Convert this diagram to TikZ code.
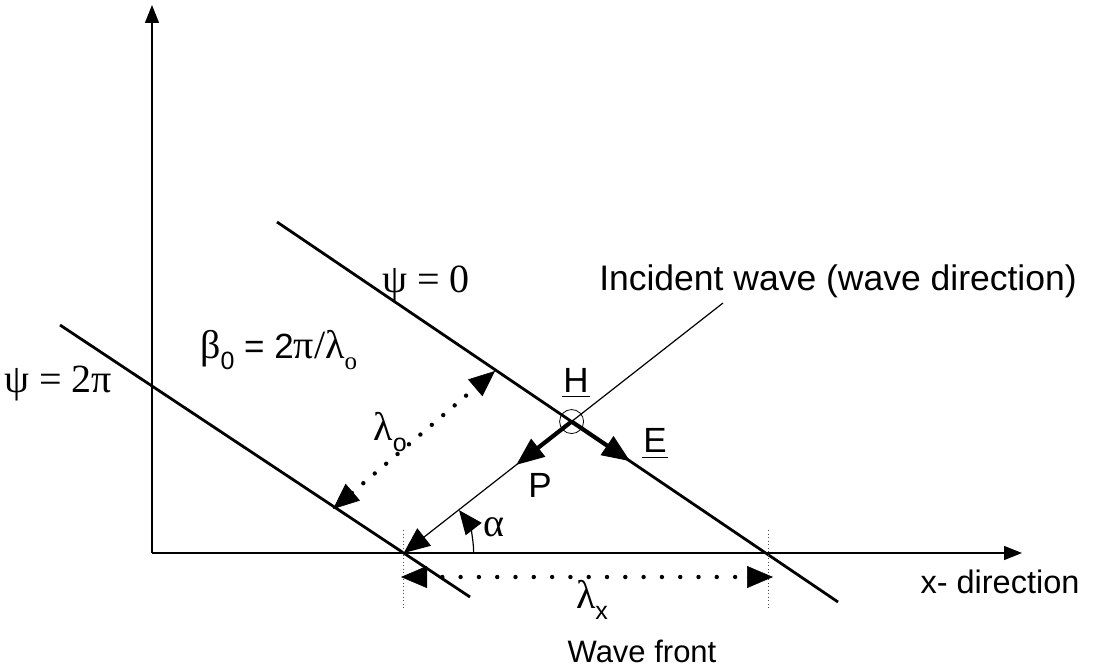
\documentclass[tikz,border=0pt]{standalone}
\usepackage{fontspec}
\setmainfont{Liberation Sans}
\newfontfamily\gk{Liberation Serif}
\usetikzlibrary{arrows.meta,calc}
\newcommand\subs[1]{\raisebox{-0.32em}{\fontsize{25}{25}\selectfont #1}}
\newcommand\gr[1]{{\fontsize{40}{40}\selectfont\gk #1}}
\begin{document}
\begin{tikzpicture}[x=1pt,y=-1pt,
  front/.style={line width=2.8pt},
  axisline/.style={line width=1.2pt,-{Triangle[length=18pt,width=14pt]}},
  thinline/.style={line width=1.2pt},
  bigtip/.style={-{Triangle[length=26pt,width=22pt]}},
  thicktip/.style={line width=4.2pt,-{Triangle[length=28pt,width=22pt]}},
  dotline/.style={line width=4.4pt,dash pattern=on 0pt off 15pt,line cap=round},
  guide/.style={line width=0.7pt,dash pattern=on 1pt off 2.5pt,black!70},
  lbl/.style={inner sep=0pt,font=\fontsize{35}{38}\selectfont},
]
\useasboundingbox (0,0) rectangle (1107,671);
% axes
\coordinate (O) at (152,553);
\coordinate (Yt) at (152,5);
\coordinate (Xt) at (1022,553);
\draw[axisline] (O) -- (Yt);
\draw[axisline] (O) -- (Xt);
% wave fronts
\coordinate (A0) at (277,222);
\coordinate (B0) at (838,602);
\coordinate (A2) at (60,325);
\coordinate (B2) at (470,597);
\draw[front] (A0) -- (B0);
\draw[front] (A2) -- (B2);
\coordinate (Q) at (intersection of A2--B2 and O--Xt);
\coordinate (W) at (723,303);
\coordinate (H) at (intersection of A0--B0 and Q--W);
% incident wave line
\draw[thinline,bigtip] (W) -- (Q);
% H circle
\draw[line width=0.8pt] (H) circle[radius=12];
% P and E arrows
\coordinate (Pt) at ($(H)!0.33!(Q)$);
\draw[thicktip] (H) -- (Pt);
\coordinate (Et) at ($(H)!0.22!(B0)$);
\draw[thicktip] (H) -- (Et);
% lambda_o
\coordinate (Lo1) at (495,371);
\coordinate (Lo2) at (333,509);
\coordinate (Lo1b) at ($(Lo1)!23pt!(Lo2)$);
\coordinate (Lo2b) at ($(Lo2)!23pt!(Lo1)$);
\draw[dotline] (Lo1b) -- (Lo2b);
\draw[line width=0.5pt,bigtip] (Lo1b) -- (Lo1);
\draw[line width=0.5pt,bigtip] (Lo2b) -- (Lo2);
% guides
\coordinate (G1a) at (403,530);
\coordinate (G1b) at (403,609);
\coordinate (G2a) at (768,530);
\coordinate (G2b) at (768,609);
\draw[guide] (G1a) -- (G1b);
\draw[guide] (G2a) -- (G2b);
% lambda_x
\coordinate (Lx1) at (401,577);
\coordinate (Lx2) at (773,577);
\coordinate (Lx1b) at (424,577);
\coordinate (Lx2b) at (750,577);
\draw[dotline,dash pattern=on 0pt off 18.3pt] (Lx1b) -- (Lx2b);
\draw[line width=0.5pt,bigtip] (Lx1b) -- (Lx1);
\draw[line width=0.5pt,bigtip] (Lx2b) -- (Lx2);
% alpha arc
\coordinate (Ar) at ($(Q)+(70,0)$);
\draw[line width=1.2pt,-{Triangle[length=24pt,width=20pt]}] (Ar) arc[start angle=0,end angle=-37.8,radius=70];
% labels
\node[lbl] (psi0) at (426,283) {\gr{ψ = 0}};
\node[lbl] (psi2) at (58,384) {\gr{ψ = 2π}};
\node[lbl,anchor=west] (beta) at (200,350) {\gr{β}\subs{0} = 2\gr{π/λ}\subs{\gk o}};
\node[lbl] (lamo) at (390,432) {\gr{λ}\subs{o}};
\node[lbl] (Hl) at (576,380) {H};
\draw[line width=0.9pt] ($(Hl.south west)+(-1,4)$) -- ($(Hl.south east)+(1,4)$);
\node[lbl] (El) at (655,440) {E};
\draw[line width=0.9pt] ($(El.south west)+(-1,5)$) -- ($(El.south east)+(1,5)$);
\node[lbl] (Pl) at (540,485) {P};
\node[lbl] (al) at (494,527) {\gr{α}};
\node[lbl] (lamx) at (592,600) {\gr{λ}\subs{x}};
\node[lbl,font=\fontsize{31}{34}\selectfont] (wf) at (642,651) {Wave front};
\node[lbl,font=\fontsize{32.5}{36}\selectfont] (xd) at (1000,582) {x- direction};
\node[lbl,font=\fontsize{35.5}{38}\selectfont] (inc) at (838,281) {Incident wave (wave direction)};
\end{tikzpicture}
\end{document}
